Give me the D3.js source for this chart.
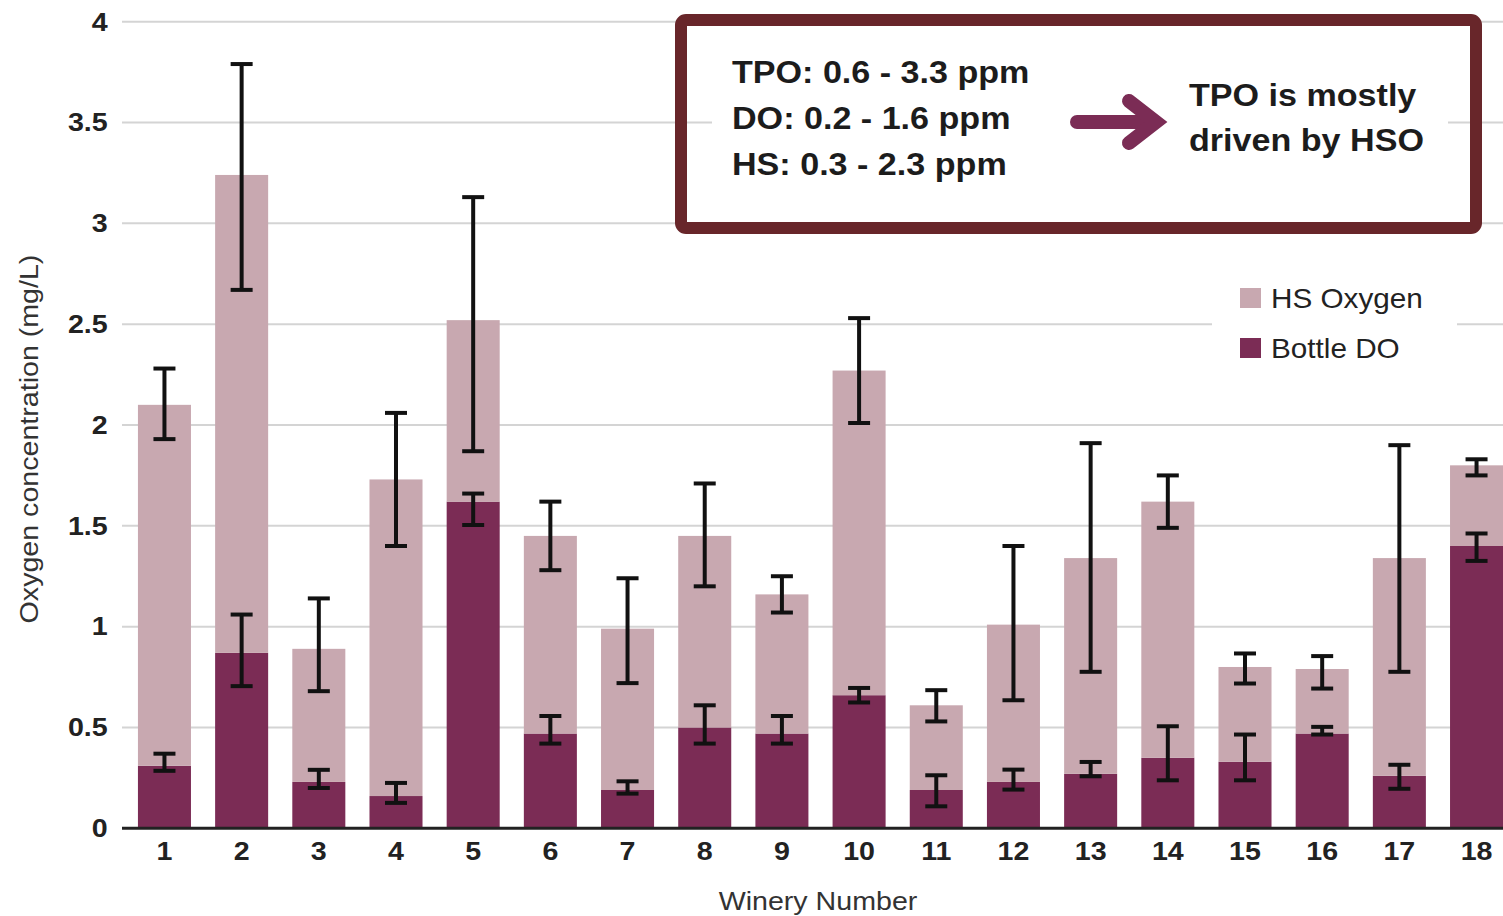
<!DOCTYPE html>
<html>
<head>
<meta charset="utf-8">
<script src="https://cdn.jsdelivr.net/npm/d3@7/dist/d3.min.js"></script>
<style>
  html, body { margin: 0; padding: 0; background: #fff; }
  svg { display: block; }
  text { font-family: "Liberation Sans", Arial, Helvetica, sans-serif; }
</style>
</head>
<body>
<svg id="chart" width="1503" height="916"></svg>
<script>
// ---------------- data ----------------
const wineries = ["1","2","3","4","5","6","7","8","9","10","11","12","13","14","15","16","17","18"];
const bottleDO  = [0.31, 0.87, 0.23, 0.16, 1.62, 0.47, 0.19, 0.50, 0.47, 0.66, 0.19, 0.23, 0.27, 0.35, 0.33, 0.47, 0.26, 1.40];
const hsOxygen  = [1.79, 2.37, 0.66, 1.57, 0.90, 0.98, 0.80, 0.95, 0.69, 1.61, 0.42, 0.78, 1.07, 1.27, 0.47, 0.32, 1.08, 0.40];
// error bar bounds
const tpoErrHi  = [2.28, 3.79, 1.14, 2.06, 3.13, 1.62, 1.24, 1.71, 1.25, 2.53, 0.685, 1.40, 1.91, 1.75, 0.867, 0.854, 1.90, 1.83];
const tpoErrLo  = [1.93, 2.67, 0.68, 1.40, 1.87, 1.28, 0.72, 1.20, 1.07, 2.01, 0.53, 0.635, 0.776, 1.49, 0.718, 0.693, 0.776, 1.75];
const doErrHi   = [0.37, 1.06, 0.29, 0.225, 1.66, 0.557, 0.233, 0.61, 0.557, 0.696, 0.263, 0.291, 0.329, 0.506, 0.465, 0.503, 0.315, 1.462];
const doErrLo   = [0.285, 0.705, 0.20, 0.126, 1.504, 0.42, 0.172, 0.42, 0.42, 0.624, 0.109, 0.192, 0.258, 0.238, 0.238, 0.465, 0.196, 1.326];
const yTicks    = [0, 0.5, 1, 1.5, 2, 2.5, 3, 3.5, 4];
const seriesNames = ["Bottle DO", "HS Oxygen"];
const legendOrder = ["HS Oxygen", "Bottle DO"];
const boxLeftLines = ["TPO: 0.6 - 3.3 ppm", "DO: 0.2 - 1.6 ppm", "HS: 0.3 - 2.3 ppm"];
const boxRightLines = ["TPO is mostly", "driven by HSO"];
const yTitle = "Oxygen concentration (mg/L)";
const xTitle = "Winery Number";

// ---------------- setup ----------------
const colors = { "HS Oxygen": "#c8a8b0", "Bottle DO": "#7b2c55" };
const SX = 1.1; // horizontal glyph stretch of original
const svg = d3.select("#chart");
const plotLeft = 122, plotRight = 1503;

const x = d3.scaleBand().domain(wineries).range([125.9, 1515.1]).paddingInner(0.313).paddingOuter(0.156);
const y = d3.scaleLinear().domain([0, 4]).range([828.3, 21.7]);

const table = wineries.map((w, i) => ({ w, "Bottle DO": bottleDO[i], "HS Oxygen": hsOxygen[i] }));
const stacked = d3.stack().keys(seriesNames)(table);

// gridlines
svg.append("g").selectAll("line").data(yTicks.filter(d => d > 0)).join("line")
  .attr("x1", plotLeft).attr("x2", plotRight)
  .attr("y1", d => y(d)).attr("y2", d => y(d))
  .attr("stroke", "#d4d4d4").attr("stroke-width", 2);

// bars
svg.append("g").selectAll("g").data(stacked).join("g")
  .attr("fill", s => colors[s.key])
  .selectAll("rect").data(s => s).join("rect")
  .attr("x", d => x(d.data.w))
  .attr("width", x.bandwidth())
  .attr("y", d => y(d[1]))
  .attr("height", d => y(d[0]) - y(d[1]));

// error bars
function errBars(lo, hi) {
  const g = svg.append("g").attr("stroke", "#111").attr("stroke-width", 4);
  const cx = i => x(wineries[i]) + x.bandwidth() / 2;
  const cap = 11;
  wineries.forEach((w, i) => {
    g.append("line").attr("x1", cx(i)).attr("x2", cx(i)).attr("y1", y(hi[i])).attr("y2", y(lo[i]));
    g.append("line").attr("x1", cx(i) - cap).attr("x2", cx(i) + cap).attr("y1", y(hi[i])).attr("y2", y(hi[i]));
    g.append("line").attr("x1", cx(i) - cap).attr("x2", cx(i) + cap).attr("y1", y(lo[i])).attr("y2", y(lo[i]));
  });
}
errBars(tpoErrLo, tpoErrHi);
errBars(doErrLo, doErrHi);

// baseline axis line
svg.append("line").attr("x1", plotLeft).attr("x2", plotRight)
  .attr("y1", y(0)).attr("y2", y(0)).attr("stroke", "#222").attr("stroke-width", 3);

// y axis
const yAxis = svg.append("g").attr("transform", `translate(${plotLeft},0)`)
  .call(d3.axisLeft(y).tickValues(yTicks).tickSize(0).tickPadding(13).tickFormat(d3.format("")));
yAxis.select(".domain").remove();
yAxis.selectAll("text").attr("font-size", 26).attr("font-weight", "bold").attr("fill", "#222")
  .attr("font-family", "Liberation Sans, Arial, sans-serif")
  .attr("transform", `scale(${SX},1)`);

// x axis
const xAxis = svg.append("g").attr("transform", `translate(0,${y(0)})`)
  .call(d3.axisBottom(x).tickSize(0).tickPadding(13));
xAxis.select(".domain").remove();
xAxis.selectAll("text").attr("font-size", 26).attr("font-weight", "bold").attr("fill", "#222")
  .attr("font-family", "Liberation Sans, Arial, sans-serif")
  .attr("transform", function() { return `scale(${SX},1)`; })
  .attr("x", function(d) { return 0; });
// compensate stretch: tick groups already translated, scale about 0 is fine

// helper for stretched text
function stext(parent, str, tx, ty, opts) {
  const t = parent.append("text")
    .attr("transform", `translate(${tx},${ty})` + (opts.rotate ? ` rotate(${opts.rotate})` : "") + ` scale(${SX},1)`)
    .attr("font-size", opts.size).attr("font-weight", opts.weight || "normal")
    .attr("fill", opts.fill || "#222").attr("text-anchor", opts.anchor || "start")
    .text(str);
  return t;
}

// axis titles
stext(svg, yTitle, 38, 439, { size: 26, rotate: -90, anchor: "middle", fill: "#333" });
stext(svg, xTitle, 818, 910, { size: 26, anchor: "middle", fill: "#333" });

// annotation box
const box = svg.append("g");
box.append("rect").attr("x", 712).attr("y", 30).attr("width", 736).attr("height", 186).attr("fill", "#fff");
box.append("rect").attr("x", 681).attr("y", 20).attr("width", 795).attr("height", 208)
  .attr("rx", 5).attr("fill", "none").attr("stroke", "#68262a").attr("stroke-width", 12);
boxLeftLines.forEach((s, i) => stext(box, s, 732, 83 + i * 46, { size: 31, weight: "bold", fill: "#1c1c1c" }));
boxRightLines.forEach((s, i) => stext(box, s, 1189, 106 + i * 45, { size: 31, weight: "bold", fill: "#1c1c1c" }));
// arrow
box.append("line").attr("x1", 1077).attr("x2", 1150).attr("y1", 122).attr("y2", 122)
  .attr("stroke", "#7b2c55").attr("stroke-width", 14).attr("stroke-linecap", "round");
box.append("path").attr("d", "M1129,101 L1156,122 L1129,143")
  .attr("fill", "none").attr("stroke", "#7b2c55").attr("stroke-width", 14)
  .attr("stroke-linejoin", "miter").attr("stroke-linecap", "round");

// legend
const leg = svg.append("g");
leg.append("rect").attr("x", 1212).attr("y", 276).attr("width", 245).attr("height", 94).attr("fill", "#fff");
legendOrder.forEach((k, i) => {
  leg.append("rect").attr("x", 1240).attr("y", 288 + i * 50).attr("width", 21).attr("height", 20).attr("fill", colors[k]);
  stext(leg, k, 1271, 308 + i * 50, { size: 27, fill: "#222" });
});
</script>
</body>
</html>
